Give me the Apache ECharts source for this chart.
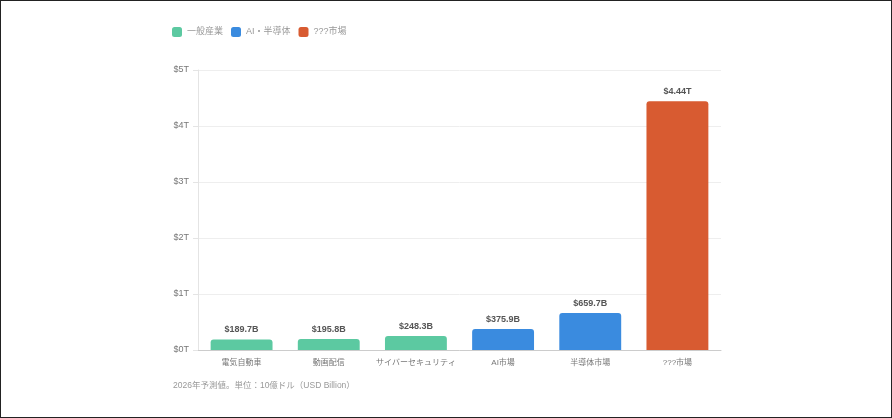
<!DOCTYPE html>
<html>
<head>
<meta charset="utf-8">
<script src="https://cdn.jsdelivr.net/npm/echarts@6/dist/echarts.min.js"></script>
<style>
  html, body { margin: 0; padding: 0; background: #fff; }
  #chart { width: 890px; height: 416px; border: 1px solid #222; }
</style>
</head>
<body>
<div id="chart"></div>
<script>
// 2026年予測値 (単位: 10億ドル)
const categories = ['電気自動車', '動画配信', 'サイバーセキュリティ', 'AI市場', '半導体市場', '???市場'];
const generalValues = [189.7, 195.8, 248.3, '-', '-', '-'];
const aiValues = ['-', '-', '-', 375.9, 659.7, '-'];
const mysteryValues = ['-', '-', '-', '-', '-', 4440];
const seriesNames = ['一般産業', 'AI・半導体', '???市場'];
const colors = ['#5cc9a1', '#3a8bdf', '#d85b31'];

const FONT = '"Liberation Sans", "Noto Sans CJK JP", sans-serif';
const fmtLabel = (v) => v >= 1000 ? '$' + (v / 1000).toFixed(2) + 'T' : '$' + v.toFixed(1) + 'B';

const chart = echarts.init(document.getElementById('chart'));

const makeSeries = (name, data, color) => ({
    name: name,
    type: 'bar',
    stack: 'all',
    data: data,
    barWidth: '71%',
    itemStyle: { color: color, borderRadius: [3, 3, 0, 0] },
    label: {
        show: true,
        position: 'top',
        distance: 5,
        fontSize: 9,
        fontWeight: 'bold',
        color: '#555',
        formatter: (p) => fmtLabel(p.value)
    }
});

chart.setOption({
    animation: false,
    textStyle: { fontFamily: FONT },
    legend: {
        left: 166,
        top: 21,
        itemWidth: 10,
        itemHeight: 10,
        itemGap: 8,
        icon: 'roundRect',
        textStyle: { color: '#999', fontSize: 9 },
        data: seriesNames
    },
    grid: { left: 197, right: 170, top: 69, bottom: 67 },
    xAxis: {
        type: 'category',
        data: categories,
        axisLine: { lineStyle: { color: '#ccc' } },
        axisTick: { show: false },
        axisLabel: { color: '#777', fontSize: 8, margin: 9, interval: 0 }
    },
    yAxis: {
        type: 'value',
        min: 0,
        max: 5000,
        interval: 1000,
        axisLine: { show: true, lineStyle: { color: '#e4e4e4' } },
        axisTick: { show: true, length: 5, lineStyle: { color: '#e4e4e4' } },
        splitLine: { lineStyle: { color: '#eee' } },
        axisLabel: { color: '#777', fontSize: 9, margin: 9, formatter: (v) => '$' + (v / 1000) + 'T' }
    },
    graphic: [{
        type: 'text',
        left: 172,
        top: 380,
        style: {
            text: '2026年予測値。単位：10億ドル（USD Billion）',
            fill: '#999',
            fontSize: 8.5,
            fontFamily: FONT
        }
    }],
    series: [
        makeSeries(seriesNames[0], generalValues, colors[0]),
        makeSeries(seriesNames[1], aiValues, colors[1]),
        makeSeries(seriesNames[2], mysteryValues, colors[2])
    ]
});

window.addEventListener('resize', () => chart.resize());
</script>
</body>
</html>
